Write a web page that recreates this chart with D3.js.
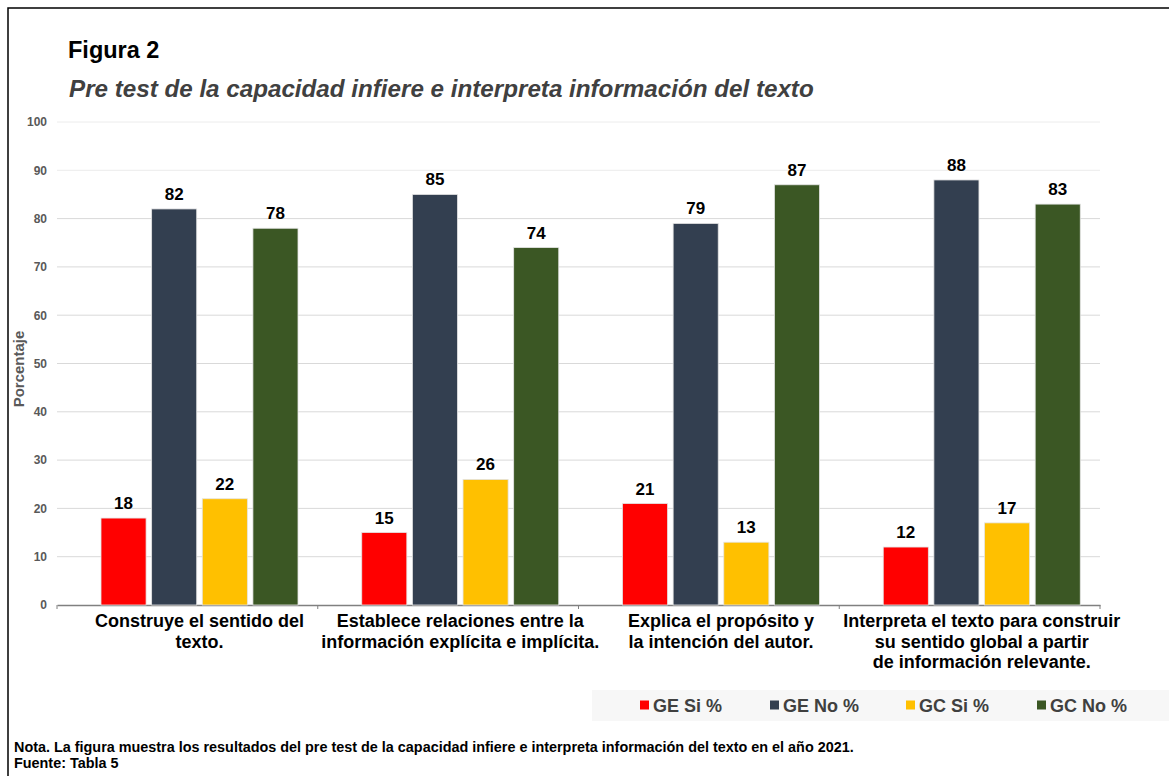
<!DOCTYPE html>
<html>
<head>
<meta charset="utf-8">
<script src="https://cdnjs.cloudflare.com/ajax/libs/d3/7.8.5/d3.min.js"></script>
<style>
  body { margin: 0; background: #fff; }
  svg { display: block; font-family: Arial, "Liberation Sans", sans-serif; }
</style>
</head>
<body>
<div class="content"></div>
<script>
// DATA
var categories = [
  ['Construye el sentido del', 'texto.'],
  ['Establece relaciones entre la', 'información explícita e implícita.'],
  ['Explica el propósito y', 'la intención del autor.'],
  ['Interpreta el texto para construir', 'su sentido global a partir', 'de información relevante.']
];
var series = ['GE Si %', 'GE No %', 'GC Si %', 'GC No %'];
var geSi = [18, 15, 21, 12];
var geNo = [82, 85, 79, 88];
var gcSi = [22, 26, 13, 17];
var gcNo = [78, 74, 87, 83];
var yTicks = [0, 10, 20, 30, 40, 50, 60, 70, 80, 90, 100];
var colors = ['#ff0000', '#333f50', '#ffc000', '#3b5724'];

var values = [geSi, geNo, gcSi, gcNo];

// VARIABLES
var w = 1169,
    h = 776,
    plotLeft = 57,
    plotRight = 1100,
    plotTop = 122,
    plotBottom = 605;

var svg = d3.select('.content').append('svg')
    .attr('width', w)
    .attr('height', h);

// frame (top and left edges)
svg.append('path')
    .attr('d', 'M8,' + h + 'V8H' + w)
    .attr('fill', 'none')
    .attr('stroke', '#000')
    .attr('stroke-width', 1.5);

// TITLES
svg.append('text')
    .attr('x', 68).attr('y', 58)
    .attr('font-size', 23.5).attr('font-weight', 'bold')
    .attr('fill', '#000')
    .text('Figura 2');

svg.append('text')
    .attr('x', 69).attr('y', 97)
    .attr('font-size', 24.2).attr('font-weight', 'bold').attr('font-style', 'italic')
    .attr('fill', '#404040')
    .text('Pre test de la capacidad infiere e interpreta información del texto');

// SCALES
var x0 = d3.scaleBand()
    .domain(d3.range(categories.length))
    .range([plotLeft, plotRight]);

var x1 = d3.scaleBand()
    .domain(series)
    .range([44, 241])
    .paddingInner(0.11);

var y = d3.scaleLinear()
    .domain([0, 100])
    .range([plotBottom, plotTop]);

// GRID
svg.append('g')
    .selectAll('line')
    .data(yTicks.slice(1))
    .enter().append('line')
    .attr('x1', plotLeft).attr('x2', plotRight)
    .attr('y1', function(d) { return y(d); })
    .attr('y2', function(d) { return y(d); })
    .attr('stroke', function(d) { return d >= 90 ? '#ececec' : '#d9d9d9'; })
    .attr('stroke-width', 1);

// Y AXIS
var yAxis = svg.append('g')
    .attr('transform', 'translate(' + (plotLeft - 10) + ',0)')
    .call(d3.axisLeft(y).tickValues(yTicks).tickSize(0).tickPadding(0));
yAxis.select('.domain').remove();
yAxis.selectAll('text')
    .attr('font-size', 12).attr('font-weight', 'bold')
    .attr('font-family', 'Arial, "Liberation Sans", sans-serif')
    .attr('fill', '#595959');

svg.append('text')
    .attr('transform', 'translate(24,' + 369 + ') rotate(-90)')
    .attr('text-anchor', 'middle')
    .attr('font-size', 15).attr('font-weight', 'bold')
    .attr('fill', '#595959')
    .text('Porcentaje');

// X AXIS
var xAxis = svg.append('g')
    .attr('transform', 'translate(0,' + plotBottom + ')')
    .call(d3.axisBottom(x0).tickValues([]).tickSizeOuter(0));
xAxis.select('.domain').attr('stroke', '#808080').attr('stroke-width', 1.3);
svg.append('g')
    .selectAll('line')
    .data(d3.range(categories.length + 1))
    .enter().append('line')
    .attr('x1', function(i) { return plotLeft + i * x0.step(); })
    .attr('x2', function(i) { return plotLeft + i * x0.step(); })
    .attr('y1', plotBottom).attr('y2', plotBottom + 4)
    .attr('stroke', '#808080');

// BARS
var groups = svg.selectAll('.group')
    .data(categories)
    .enter().append('g')
    .attr('class', 'group')
    .attr('transform', function(d, i) { return 'translate(' + x0(i) + ',0)'; });

groups.each(function(c, i) {
  var g = d3.select(this);
  var rows = series.map(function(s, k) { return { s: s, v: values[k][i], k: k }; });

  g.selectAll('rect')
      .data(rows)
      .enter().append('rect')
      .attr('x', function(d) { return x1(d.s); })
      .attr('y', function(d) { return y(d.v); })
      .attr('width', x1.bandwidth())
      .attr('height', function(d) { return plotBottom - y(d.v); })
      .attr('fill', function(d) { return colors[d.k]; })
      .attr('stroke', '#e4e4e4')
      .attr('stroke-width', 0.8);

  g.selectAll('.val')
      .data(rows)
      .enter().append('text')
      .attr('class', 'val')
      .attr('x', function(d) { return x1(d.s) + x1.bandwidth() / 2; })
      .attr('y', function(d) { return y(d.v) - 9; })
      .attr('text-anchor', 'middle')
      .attr('font-size', 17).attr('font-weight', 'bold')
      .attr('fill', '#000')
      .text(function(d) { return d.v; });

  var cx = (x1.range()[0] + x1.range()[1]) / 2;
  g.selectAll('.cat')
      .data(c)
      .enter().append('text')
      .attr('class', 'cat')
      .attr('x', cx)
      .attr('y', function(d, j) { return 627 + j * 20.5; })
      .attr('text-anchor', 'middle')
      .attr('font-size', 18).attr('font-weight', 'bold')
      .attr('fill', '#000')
      .text(function(d) { return d; });
});

// LEGEND
svg.append('rect')
    .attr('x', 592).attr('y', 690)
    .attr('width', w - 592).attr('height', 31)
    .attr('fill', '#f7f7f7');

var legendX = [640, 770, 906, 1037];
var legend = svg.selectAll('.legend')
    .data(series)
    .enter().append('g')
    .attr('class', 'legend')
    .attr('transform', function(d, i) { return 'translate(' + legendX[i] + ',705)'; });

legend.append('rect')
    .attr('x', 0).attr('y', -4.5)
    .attr('width', 9).attr('height', 9)
    .attr('fill', function(d, i) { return colors[i]; });

legend.append('text')
    .attr('x', 13).attr('y', 6.5)
    .attr('font-size', 18).attr('font-weight', 'bold')
    .attr('fill', '#404040')
    .text(function(d) { return d; });

// NOTE
svg.append('text')
    .attr('x', 14).attr('y', 752)
    .attr('font-size', 14.4).attr('font-weight', 'bold')
    .attr('fill', '#000')
    .text('Nota. La figura muestra los resultados del pre test de la capacidad infiere e interpreta información del texto en el año 2021.');

svg.append('text')
    .attr('x', 14).attr('y', 768)
    .attr('font-size', 14.4).attr('font-weight', 'bold')
    .attr('fill', '#000')
    .text('Fuente: Tabla 5');
</script>
</body>
</html>
